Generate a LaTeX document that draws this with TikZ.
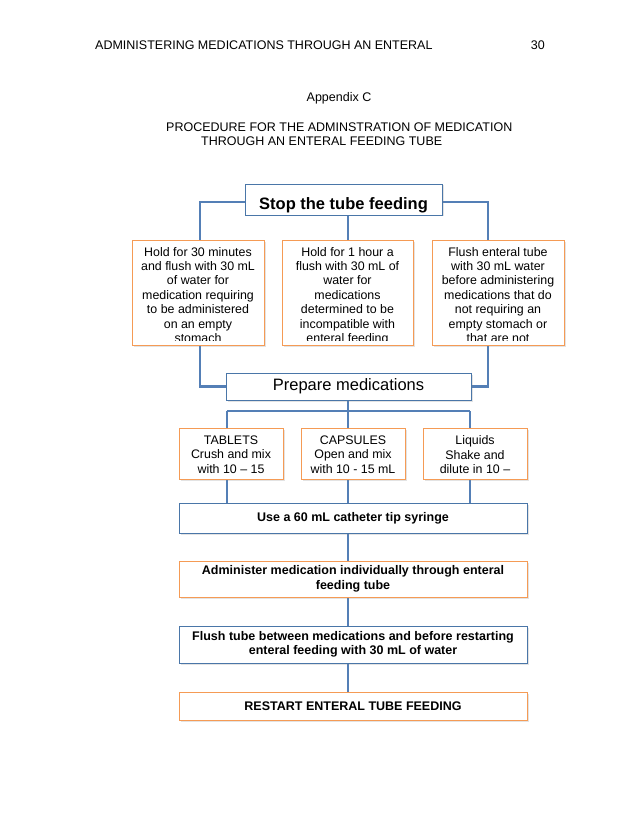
\documentclass[tikz,border=0pt]{standalone}
\usepackage{fontspec}
\setmainfont{Liberation Sans}
\usetikzlibrary{backgrounds,shadows}
\definecolor{bluebd}{RGB}{74,118,168}
\definecolor{orgbd}{RGB}{245,155,85}
\definecolor{conncol}{RGB}{84,127,182}
\begin{document}
\begin{tikzpicture}[x=1pt,y=-1pt,
  shad/.style={drop shadow={shadow xshift=1.5pt,shadow yshift=-1.5pt,opacity=0.22}},
  bbox/.style={draw=bluebd,line width=0.9pt,fill=white,inner sep=0pt,shad},
  obox/.style={draw=orgbd,line width=0.9pt,fill=white,inner sep=0pt,shad},
  conn/.style={draw=conncol,line width=2.6pt},
  txt/.style={font=\fontsize{12.4}{14.4}\selectfont,align=center,inner sep=0pt},
  btxt/.style={font=\bfseries\fontsize{12.5}{14.5}\selectfont,align=center,inner sep=0pt},
  hdr/.style={font=\fontsize{12.5}{14.5}\selectfont,inner sep=0pt}
]
\useasboundingbox (0,0) rectangle (638,826);
% header texts
\node[hdr,anchor=west] (runhead) at (95,45) {ADMINISTERING MEDICATIONS THROUGH AN ENTERAL};
\node[hdr,anchor=east] (pagenum) at (545,45) {30};
\node[hdr] (appx) at (339,98) {Appendix C};
\node[hdr,anchor=west] (title1) at (166,127) {PROCEDURE FOR THE ADMINSTRATION OF MEDICATION};
\node[hdr,anchor=west] (title2) at (201,141) {THROUGH AN ENTERAL FEEDING TUBE};

% boxes
\node[bbox,minimum width=197pt,minimum height=31pt] (stop) at (343.5,199.5) {};
\node[inner sep=0pt,anchor=base,font=\bfseries\fontsize{16.5}{18}\selectfont] (stopt) at (343.5,209.5) {Stop the tube feeding};

\node[obox,minimum width=132pt,minimum height=105pt] (h1) at (198,292.5) {};
\node[obox,minimum width=131pt,minimum height=105pt] (h2) at (347.5,292.5) {};
\node[obox,minimum width=132pt,minimum height=105pt] (h3) at (498,292.5) {};
\begin{scope}
\clip (132,240) rectangle (264,340.5);
\node[txt,anchor=north] (h1t) at (198,247) {Hold for 30 minutes\\and flush with 30 mL\\of water for\\medication requiring\\to be administered\\on an empty\\stomach};
\end{scope}
\begin{scope}
\clip (282,240) rectangle (413,340.5);
\node[txt,anchor=north] (h2t) at (347.5,247) {Hold for 1 hour a\\flush with 30 mL of\\water for\\medications\\determined to be\\incompatible with\\enteral feeding};
\end{scope}
\begin{scope}
\clip (432,240) rectangle (564,340.5);
\node[txt,anchor=north] (h3t) at (498,247) {Flush enteral tube\\with 30 mL water\\before administering\\medications that do\\not requiring an\\empty stomach or\\that are not};
\end{scope}

\node[bbox,minimum width=245pt,minimum height=27pt,font=\fontsize{16.5}{18}\selectfont] (prep) at (348.5,386.5) {Prepare medications};

\node[obox,minimum width=104pt,minimum height=51pt] (tab) at (231,453.5) {};
\node[obox,minimum width=104pt,minimum height=51pt] (cap) at (353,453.5) {};
\node[obox,minimum width=104pt,minimum height=51pt] (liq) at (475,453.5) {};
\node[txt,anchor=north] (tabt) at (231,435.5) {TABLETS\\Crush and mix\\with 10 – 15};
\node[txt,anchor=north] (capt) at (353,435.5) {CAPSULES\\Open and mix\\with 10 - 15 mL};
\node[txt,anchor=north] (liqt) at (475,435.5) {Liquids\\Shake and\\dilute in 10 –};

\node[bbox,minimum width=348pt,minimum height=30pt,btxt] (syr) at (353,518) {Use a 60 mL catheter tip syringe};
\node[obox,minimum width=348pt,minimum height=36pt,btxt] (adm) at (353,579) {Administer medication individually through enteral\\feeding tube};
\node[bbox,minimum width=348pt,minimum height=37pt,btxt] (fl) at (353,644.5) {Flush tube between medications and before restarting\\enteral feeding with 30 mL of water};
\node[obox,minimum width=348pt,minimum height=28pt,btxt] (rs) at (353,706) {RESTART ENTERAL TUBE FEEDING};

% connectors
\coordinate (cl) at (200,202);
\coordinate (cr) at (488,202);
\coordinate (jl) at (227,411);
\coordinate (jm) at (348,411);
\coordinate (jr) at (470,411);
\begin{scope}[on background layer]
\fill[white] (0,0) rectangle (638,826);
\draw[conn] (stop.west |- cl) -- (cl) -- (cl |- h1.north);
\draw[conn] (stop.east |- cr) -- (cr) -- (cr |- h3.north);
\draw[conn] (stop.south -| jm) -- (h2.north -| jm);
\draw[conn] (h1.south -| cl) |- (prep.west);
\draw[conn] (h3.south -| cr) |- (prep.east);
\draw[conn] (prep.south -| jm) -- (jm);
\draw[conn] (jl) -- (jr);
\draw[conn] (jl) -- (jl |- tab.north);
\draw[conn] (jm) -- (jm |- cap.north);
\draw[conn] (jr) -- (jr |- liq.north);
\draw[conn] (tab.south -| jl) -- (jl |- syr.north);
\draw[conn] (cap.south -| jm) -- (jm |- syr.north);
\draw[conn] (liq.south -| jr) -- (jr |- syr.north);
\draw[conn] (syr.south -| jm) -- (adm.north -| jm);
\draw[conn] (adm.south -| jm) -- (fl.north -| jm);
\draw[conn] (fl.south -| jm) -- (rs.north -| jm);
\end{scope}
\end{tikzpicture}
\end{document}
